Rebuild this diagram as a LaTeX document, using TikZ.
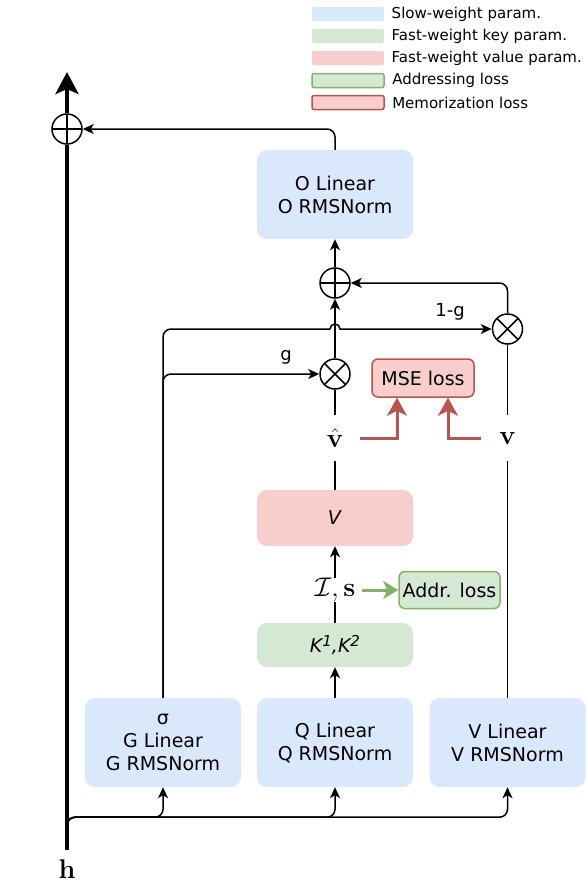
\RequirePackage{fix-cm}
\documentclass[tikz,border=0pt]{standalone}
\usepackage[no-math]{fontspec}
\setmainfont{DejaVu Sans}
\usetikzlibrary{arrows.meta,positioning}

\definecolor{slowblue}{HTML}{DAE8FC}
\definecolor{keygreen}{HTML}{D5E8D4}
\definecolor{valred}{HTML}{F8CECC}
\definecolor{addrline}{HTML}{82B366}
\definecolor{memline}{HTML}{B85450}

\newcommand{\supidx}[1]{\raisebox{0.55ex}{\fontsize{15}{15}\selectfont #1}}

\begin{document}
\begin{tikzpicture}[x=1pt, y=-1pt,
    box/.style={rectangle, rounded corners=10pt, minimum width=156pt, align=center, font=\fontsize{19}{23}\selectfont},
    slowbox/.style={box, fill=slowblue, minimum height=89pt},
    lossbox/.style={rectangle, rounded corners=6pt, line width=1.5pt, align=center, font=\fontsize{19}{23}\selectfont},
    vecnode/.style={inner sep=0pt, font=\fontsize{27}{30}\selectfont},
    gatelabel/.style={font=\fontsize{18}{22}\selectfont},
    opcircle/.style={circle, draw, line width=1.5pt, minimum size=30pt, inner sep=0pt},
    oplus/.style={opcircle, path picture={\draw[line width=1.5pt]
        (path picture bounding box.north) -- (path picture bounding box.south)
        (path picture bounding box.west) -- (path picture bounding box.east);}},
    otimes/.style={opcircle, path picture={\draw[line width=1.5pt]
        ([shift={(45:16pt)}]path picture bounding box.center) -- ([shift={(225:16pt)}]path picture bounding box.center)
        ([shift={(135:16pt)}]path picture bounding box.center) -- ([shift={(-45:16pt)}]path picture bounding box.center);}},
    conn/.style={line width=1.5pt, -{Stealth[length=11pt,width=10pt,inset=3pt]}},
    plain/.style={line width=1.5pt},
    memarrow/.style={line width=3pt, memline, -{Stealth[length=18pt,width=20pt,inset=5pt]}},
    addrarrow/.style={line width=3pt, addrline, -{Stealth[length=15pt,width=18pt,inset=4pt]}},
    legendkey/.style={rectangle, rounded corners=2pt, minimum width=72pt, minimum height=14pt},
    legendtext/.style={right=4pt of #1, font=\fontsize{15}{18}\selectfont}
]
\useasboundingbox (0,0) rectangle (588,894);

% legend
    \node[legendkey, fill=slowblue] (lgslow) at (348,14) {};
    \node[legendtext=lgslow] {Slow-weight param.};
    \node[legendkey, fill=keygreen] (lgkey) at (348,36) {};
    \node[legendtext=lgkey] {Fast-weight key param.};
    \node[legendkey, fill=valred] (lgval) at (348,58) {};
    \node[legendtext=lgval] {Fast-weight value param.};
    \node[legendkey, fill=keygreen, draw=addrline, line width=1.5pt] (lgaddr) at (348,80.5) {};
    \node[legendtext=lgaddr] {Addressing loss};
    \node[legendkey, fill=valred, draw=memline, line width=1.5pt] (lgmem) at (348,102.5) {};
    \node[legendtext=lgmem] {Memorization loss};

% input and residual stream
    \node[vecnode] (h) at (67,869) {$\mathbf{h}$};
    \coordinate (hbot) at (67,850);
    \coordinate (split) at (67,832);
    \coordinate (maintop) at (67,72);
    \node[oplus] (addmain) at (67,129) {};
    \draw[line width=4pt] (hbot) -- (addmain.south);
    \draw[line width=4pt, -{Stealth[length=22pt,width=23pt,inset=5pt]}] (addmain.north) -- (maintop);

% projections
    \node[slowbox] (gbox) at (163,742.5) {σ\\G Linear\\G RMSNorm};
    \node[slowbox] (qbox) at (335,742.5) {Q Linear\\Q RMSNorm};
    \node[slowbox] (vlin) at (507.5,742.5) {V Linear\\V RMSNorm};
    \draw[conn, rounded corners=8pt] (split) |- ([yshift=-30pt]gbox.south) -- (gbox.south);
    \draw[conn, rounded corners=8pt] (split) |- ([yshift=-30pt]qbox.south) -- (qbox.south);
    \draw[conn, rounded corners=8pt] (split) |- ([yshift=-30pt]vlin.south) -- (vlin.south);

% fast weights
    \node[box, fill=keygreen, minimum height=44pt] (kbox) at (335,645) {\textit{K\supidx{1},K\supidx{2}}};
    \node[vecnode, minimum width=54pt, minimum height=24pt] (Is) at (335,590) {$\mathcal{I},\mathbf{s}$};
    \node[lossbox, fill=keygreen, draw=addrline, minimum width=101pt, minimum height=37pt] (addr) at (449.5,590) {Addr. loss};
    \node[box, fill=valred, minimum height=56pt] (vbox) at (335,518) {\textit{V}};
    \node[vecnode, minimum width=50pt, minimum height=46pt] (vhat) at (335,438) {$\hat{\mathbf{v}}$};
    \node[vecnode, minimum width=52pt, minimum height=46pt] (vlab) at (507.5,438) {$\mathbf{v}$};
    \node[lossbox, fill=valred, draw=memline, minimum width=102pt, minimum height=38pt] (mse) at (423,378) {MSE loss};

    \draw[conn] (qbox.north) -- (kbox.south);
    \draw[plain] (kbox.north) -- (Is.south);
    \draw[conn] (Is.north) -- (vbox.south);
    \draw[addrarrow] (Is.east) -- (addr.west);
    \draw[plain] (vbox.north) -- (vhat.south);
    \draw[plain] (vlin.north) -- (vlab.south);
    \draw[memarrow] (vhat.east) -| ([xshift=-26pt]mse.south);
    \draw[memarrow] (vlab.west) -| ([xshift=25pt]mse.south);

% gating
    \node[otimes] (mulg) at (335,374) {};
    \node[otimes] (mul1g) at (507.5,329) {};
    \node[oplus] (add2) at (335,283) {};
    \node[gatelabel] (glab) at (286,357) {g};
    \node[gatelabel] (onemg) at (450,312) {1-g};
    \draw[plain] (vhat.north) -- (mulg.south);
    \draw[plain] (vlab.north) -- (mul1g.south);
    \draw[conn, rounded corners=8pt] (gbox.north) |- (mulg.west);
    \path (mulg.center |- mul1g.center) ++(-5pt,0) coordinate (hopL);
    \draw[plain, rounded corners=8pt] (gbox.north) |- (hopL);
    \draw[conn] (hopL) arc[start angle=180, end angle=0, radius=5pt] -- (mul1g.west);
    \draw[conn] (mulg.north) -- (add2.south);
    \draw[conn, rounded corners=8pt] (mul1g.north) |- (add2.east);

% output
    \node[slowbox] (obox) at (335,194.5) {O Linear\\O RMSNorm};
    \draw[conn] (add2.north) -- (obox.south);
    \draw[conn, rounded corners=8pt] (obox.north) |- (addmain.east);

\end{tikzpicture}
\end{document}
